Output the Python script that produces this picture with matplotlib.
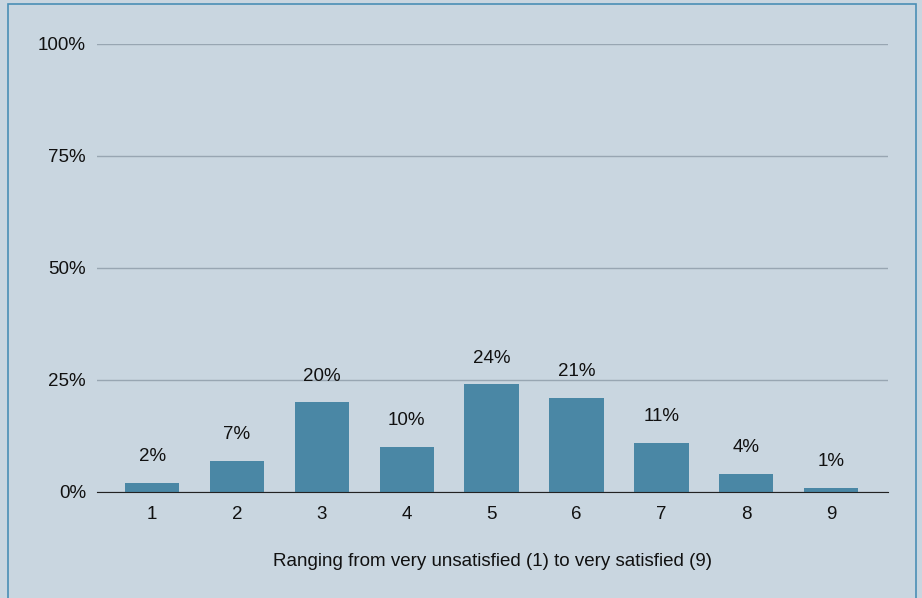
import matplotlib.pyplot as plt
from matplotlib.patches import Rectangle

plt.rcParams['font.family'] = ['Liberation Sans', 'DejaVu Sans']

# satisfaction scores and share of answers (%)
scores = ["1", "2", "3", "4", "5", "6", "7", "8", "9"]
shares = [2, 7, 20, 10, 24, 21, 11, 4, 1]
yticks = [0, 25, 50, 75, 100]

bg = "#c9d6e0"
bar_col = "#4a87a5"
fs = 13.5

fig = plt.figure(figsize=(9.22, 5.98), dpi=100, facecolor=bg)
ax = fig.add_axes([97/922, 1-492/598, 791/922, 448/598])
ax.set_facecolor(bg)

x = range(1, len(scores) + 1)
bars = ax.bar(x, shares, width=0.64, color=bar_col, zorder=3)
for xi, v in zip(x, shares):
    ax.annotate(f"{v}%", (xi, v), xytext=(0, 19), textcoords="offset points",
                ha="center", va="center", fontsize=fs, color="#111111")

ax.set_xlim(0.35, 9.67)
ax.set_ylim(0, 100)
ax.set_xticks(list(x))
ax.set_xticklabels(scores)
ax.set_yticks(yticks)
ax.set_yticklabels([f"{t}%" for t in yticks])
ax.tick_params(length=0, labelsize=fs, colors="#111111")
ax.tick_params(axis="x", pad=10)
ax.tick_params(axis="y", pad=8)
ax.grid(axis="y", color="#98a6b2", linewidth=1, zorder=0)
for s in ["top", "right", "left"]:
    ax.spines[s].set_visible(False)
ax.spines["bottom"].set_color("#222222")
ax.spines["bottom"].set_zorder(4)

ax.set_xlabel("Ranging from very unsatisfied (1) to very satisfied (9)",
              fontsize=fs, color="#111111", labelpad=22)

# frame around the chart
fig.patches.append(Rectangle((8/922, -0.01), 908/922, 1 - 3.5/598 + 0.01,
                             transform=fig.transFigure, fill=False,
                             edgecolor="#4a8fb5", linewidth=1.2))

fig.savefig("out.png", dpi=100, facecolor=bg)
